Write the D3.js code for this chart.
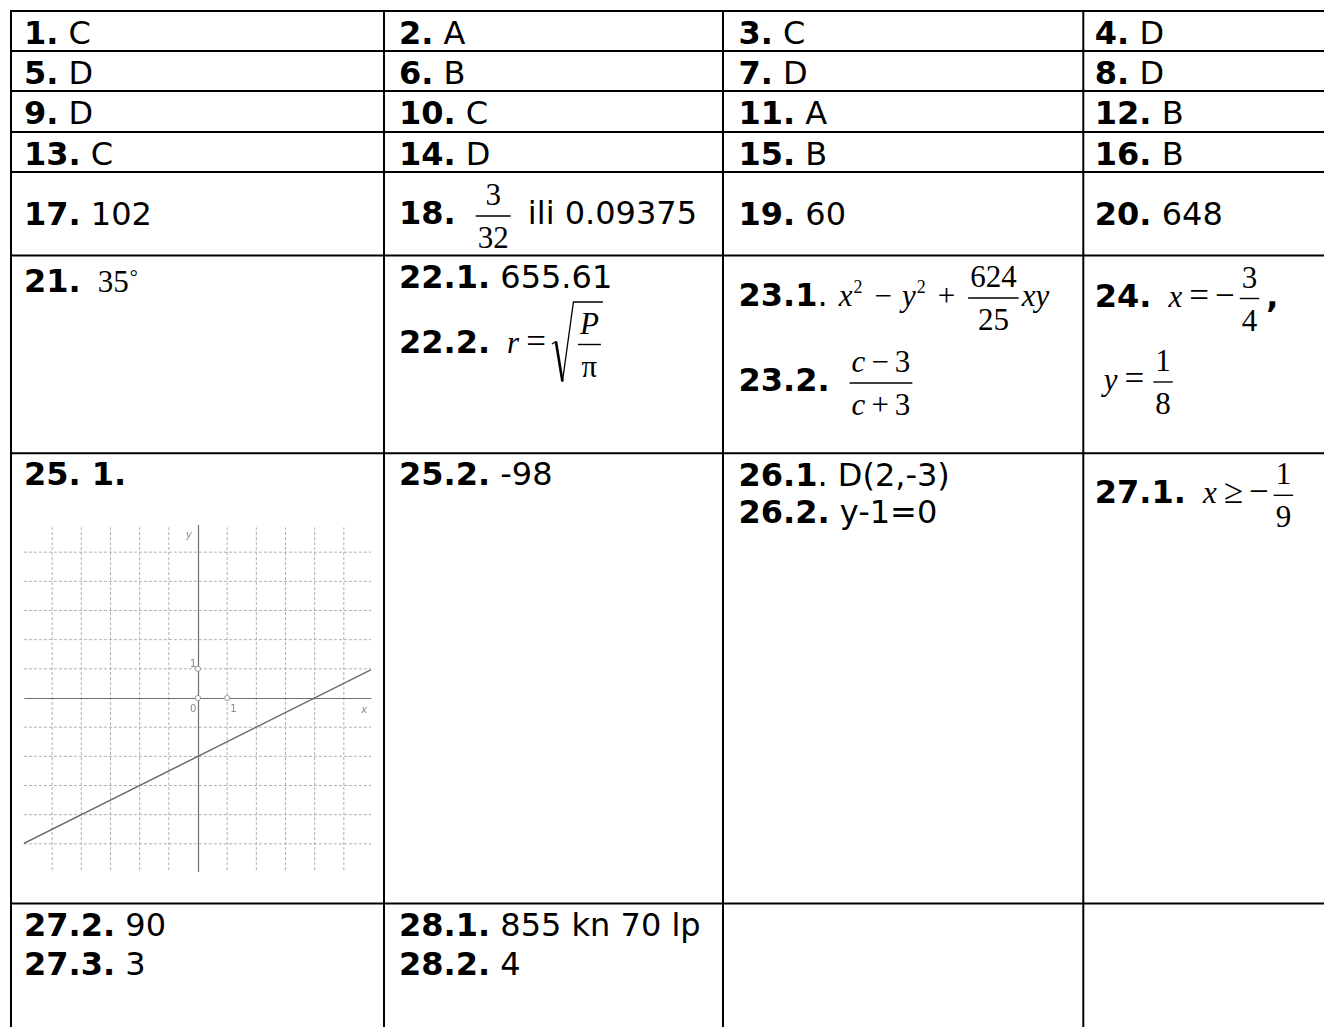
<!DOCTYPE html>
<html><head><meta charset="utf-8">
<script src="https://cdn.jsdelivr.net/npm/d3@7"></script>
<style>html,body{margin:0;padding:0;background:#fff;}svg{display:block;}</style>
</head><body>
<svg id="chart" width="1324" height="1027"></svg>
<script>
// ---------- token helpers (content only) ----------
const B = s => ({k:"b", s});      // bold sans label
const R = s => ({k:"r", s});      // regular sans answer
const I = s => ({k:"i", s});      // italic math variable
const U = s => ({k:"u", s});      // upright math
const OP = s => ({k:"op", s});    // binary operator
const REL = s => ({k:"rel", s});  // relation sign
const NEG = s => ({k:"neg", s});  // unary minus
const SUP = s => ({k:"sup", s});  // superscript
const DEG = s => ({k:"deg", s});  // degree sign
const FR = (num, den) => ({k:"frac", num, den});
const SQ = body => ({k:"sqrt", body});

// ---------- DATA ----------
const mcLabels = ["1.","2.","3.","4.","5.","6.","7.","8.","9.","10.","11.","12.","13.","14.","15.","16."];
const mcAnswers = ["C","A","C","D","D","B","D","D","D","C","A","B","C","D","B","B"];

const shortLabels = ["17.","18.","19.","20."];
const shortAnswers = [
  [R(" 102")],
  [FR([U("3")],[U("32")]), R(" ili 0.09375")],
  [R(" 60")],
  [R(" 648")]
];

const openAnswers = [
  [[B("21."), U("35"), DEG("°")]],
  [[B("22.1."), R(" 655.61")],
   [B("22.2."), I("r"), REL("="), SQ([FR([I("P")],[U("π")])])]],
  [[B("23.1"), R("."), I("x"), SUP("2"), OP("−"), I("y"), SUP("2"), OP("+"), FR([U("624")],[U("25")]), I("xy")],
   [B("23.2."), FR([I("c"), OP("−"), U("3")],[I("c"), OP("+"), U("3")])]],
  [[B("24."), I("x"), REL("="), NEG("−"), FR([U("3")],[U("4")]), B(",")],
   [I("y"), REL("="), FR([U("1")],[U("8")])]]
];

const longAnswers = [
  [[B("25. 1.")]],
  [[B("25.2."), R(" -98")]],
  [[B("26.1"), R(". D(2,-3)")], [B("26.2."), R(" y-1=0")]],
  [[B("27.1."), I("x"), REL("≥"), NEG("−"), FR([U("1")],[U("9")])]]
];

const lastAnswers = [
  [[B("27.2."), R(" 90")], [B("27.3."), R(" 3")]],
  [[B("28.1."), R(" 855 kn 70 lp")], [B("28.2."), R(" 4")]],
  [],
  []
];

// graph of task 25.1
const gridValues = [-5,-4,-3,-2,-1,1,2,3,4,5];
const linePoints = [{x:-6, y:-5}, {x:6, y:1}];
const markedPoints = [{x:0, y:0}, {x:1, y:0}, {x:0, y:1}];
const pointLabels = [{t:"0", x:0, y:0}, {t:"1", x:1, y:0}, {t:"1", x:0, y:1}];
const axisNames = ["x", "y"];

// ---------- LAYOUT / STYLE ----------
const SANS = "'DejaVu Sans', Verdana, sans-serif";
const SERIF = "'Liberation Serif', 'Times New Roman', serif";
const runStyle = {
  b:   {fam:SANS,  size:32, weight:700, kind:"sans"},
  r:   {fam:SANS,  size:32, weight:400, kind:"sans"},
  i:   {fam:SERIF, size:31, italic:true, kind:"math"},
  u:   {fam:SERIF, size:31, kind:"math"},
  op:  {fam:SERIF, size:31, kind:"math", padL:10, padR:10, fracPad:6},
  rel: {fam:SERIF, size:35, kind:"math", padL:7, padR:6},
  neg: {fam:SERIF, size:35, kind:"math", padL:0, padR:2},
  sup: {fam:SERIF, size:18, kind:"math", dy:-13, padL:1, padR:2},
  deg: {fam:SERIF, size:20, kind:"math", dy:-8, padL:1}
};
const kindOf = r => (r.k === "frac" || r.k === "sqrt") ? "math" : runStyle[r.k].kind;

const svg = d3.select("#chart");
svg.append("rect").attr("width", 1324).attr("height", 1027).attr("fill", "#fff");

function drawRuns(g, runs, x, y, inFrac) {
  let prev = null;
  for (const run of runs) {
    const kind = kindOf(run);
    if (prev) {
      const pk = kindOf(prev);
      if (pk === "sans" && kind === "math") x += prev.k === "b" ? 17 : 11;
      if (pk === "math" && kind === "sans") x += 4;
    }
    if (run.k === "frac") x = drawFrac(g, run, x, y);
    else if (run.k === "sqrt") x = drawSqrt(g, run, x, y);
    else {
      const st = runStyle[run.k];
      const pl = inFrac && st.fracPad != null ? st.fracPad : (st.padL || 0);
      const pr = inFrac && st.fracPad != null ? st.fracPad : (st.padR || 0);
      x += pl;
      const t = g.append("text")
        .attr("x", x).attr("y", y + (st.dy || 0))
        .attr("font-family", st.fam).attr("font-size", st.size)
        .attr("font-weight", st.weight || 400)
        .attr("font-style", st.italic ? "italic" : "normal")
        .attr("fill", "#000")
        .style("white-space", "pre")
        .text(run.s);
      x += t.node().getComputedTextLength();
      x += pr;
    }
    prev = run;
  }
  return x;
}

function drawFrac(g, run, x, y) {
  const m = 3, axis = y - 8;
  const gn = g.append("g"), gd = g.append("g");
  const wn = drawRuns(gn, run.num, 0, 0, true), wd = drawRuns(gd, run.den, 0, 0, true);
  const W = Math.max(wn, wd) + 4;
  gn.attr("transform", `translate(${x + m + (W - wn) / 2},${axis - 11})`);
  gd.attr("transform", `translate(${x + m + (W - wd) / 2},${axis + 32})`);
  g.append("line").attr("x1", x + m).attr("x2", x + m + W)
    .attr("y1", axis).attr("y2", axis)
    .attr("stroke", "#000").attr("stroke-width", 1.4);
  return x + 2 * m + W;
}

function drawSqrt(g, run, x, y) {
  const bx = x + 23;
  const gb = g.append("g").attr("transform", `translate(${bx},0)`);
  const w = drawRuns(gb, run.body, 0, y);
  const top = y - 50.5, bot = y + 29;
  g.append("path").attr("d", `M${x},${y - 8.5} L${x + 4},${y - 11}`)
    .attr("stroke", "#000").attr("stroke-width", 1.3).attr("fill", "none");
  g.append("path").attr("d", `M${x + 4},${y - 11} L${x + 10.5},${bot}`)
    .attr("stroke", "#000").attr("stroke-width", 2.6).attr("fill", "none");
  g.append("path").attr("d", `M${x + 10.5},${bot} L${x + 21.5},${top} L${bx + w - 1},${top}`)
    .attr("stroke", "#000").attr("stroke-width", 1.3).attr("fill", "none");
  return bx + w;
}

// table geometry
const colX = d3.scaleOrdinal().domain([0,1,2,3,4]).range([11, 384, 723, 1083.3, 1330]);
const rowY = d3.scaleOrdinal().domain([0,1,2,3,4,5,6,7,8]).range([11, 51, 91, 132, 172, 255.5, 453.3, 903.5, 1040]);
const pad = [13, 15, 15.5, 11.5];

const cells = [];
mcAnswers.forEach((a, i) => cells.push({row: Math.floor(i / 4), col: i % 4,
  lines: [[B(mcLabels[i]), R(" " + a)]]}));
shortAnswers.forEach((a, j) => cells.push({row: 4, col: j, lines: [[B(shortLabels[j]), ...a]]}));
openAnswers.forEach((c, j) => cells.push({row: 5, col: j, lines: c}));
longAnswers.forEach((c, j) => cells.push({row: 6, col: j, lines: c}));
lastAnswers.forEach((c, j) => cells.push({row: 7, col: j, lines: c}));

const baseOffsets = {
  0: [[33],[33],[33],[33]], 1: [[33],[33],[33],[33]], 2: [[33],[33],[33],[33]], 3: [[33],[33],[33],[33]],
  4: [[52.5],[52],[52.5],[52.5]],
  5: [[36],[32,97],[50.5,135.5],[51,134.5]],
  6: [[32],[32],[32.4,69.7],[50]],
  7: [[32.5,71.5],[32,71.5],[],[]]
};
const indents = {"5-3-1": 9};

const textG = svg.append("g");
cells.forEach(c => {
  c.lines.forEach((runs, li) => {
    const x0 = colX(c.col) + pad[c.col] + (indents[`${c.row}-${c.col}-${li}`] || 0);
    const y0 = rowY(c.row) + baseOffsets[c.row][c.col][li];
    drawRuns(textG, runs, x0, y0, false);
  });
});

// table lines
const lineG = svg.append("g").attr("stroke", "#000").attr("stroke-width", 2);
d3.range(0, 8).forEach(r => {
  lineG.append("line").attr("x1", colX(0) - 1).attr("x2", colX(4))
    .attr("y1", rowY(r)).attr("y2", rowY(r));
});
d3.range(0, 4).forEach(c => {
  lineG.append("line").attr("x1", colX(c)).attr("x2", colX(c))
    .attr("y1", rowY(0) - 1).attr("y2", rowY(8));
});

// ---------- graph 25.1 ----------
const gx = d3.scaleLinear().domain([-6, 6]).range([23, 373]);
const gy = d3.scaleLinear().domain([-6, 6]).range([873, 523]);
const defs = svg.append("defs");
defs.append("filter").attr("id", "soft").append("feGaussianBlur").attr("stdDeviation", 0.4);
defs.append("clipPath").attr("id", "gclip").append("rect")
  .attr("x", gx(-5.97)).attr("y", gy(5.95))
  .attr("width", gx(5.93) - gx(-5.97)).attr("height", gy(-5.95) - gy(5.95));

const graph = svg.append("g").attr("filter", "url(#soft)");
graph.append("g").selectAll("line").data(gridValues).join("line")
  .attr("x1", gx(-5.97)).attr("x2", gx(5.93))
  .attr("y1", d => gy(d)).attr("y2", d => gy(d))
  .attr("stroke", "#b0b0b0").attr("stroke-width", 1).attr("stroke-dasharray", "3,2");
graph.append("g").selectAll("line").data(gridValues).join("line")
  .attr("x1", d => gx(d)).attr("x2", d => gx(d))
  .attr("y1", gy(-5.9)).attr("y2", gy(5.85))
  .attr("stroke", "#b0b0b0").attr("stroke-width", 1).attr("stroke-dasharray", "3,2");

graph.append("g").attr("transform", `translate(0,${gy(0)})`)
  .call(d3.axisBottom(gx.copy().domain([-5.97, 5.93]).range([gx(-5.97), gx(5.93)])).tickValues([]).tickSizeOuter(0));
graph.append("g").attr("transform", `translate(${gx(0)},0)`)
  .call(d3.axisLeft(gy.copy().domain([-5.95, 5.95]).range([gy(-5.95), gy(5.95)])).tickValues([]).tickSizeOuter(0));
graph.selectAll(".domain").attr("stroke", "#707070").attr("stroke-width", 1.2);

graph.append("path").datum(linePoints)
  .attr("clip-path", "url(#gclip)")
  .attr("d", d3.line().x(d => gx(d.x)).y(d => gy(d.y)))
  .attr("stroke", "#666").attr("stroke-width", 1.4).attr("fill", "none");

graph.append("g").selectAll("circle").data(markedPoints).join("circle")
  .attr("cx", d => gx(d.x)).attr("cy", d => gy(d.y)).attr("r", 2.6)
  .attr("fill", "#fff").attr("stroke", "#999").attr("stroke-width", 1);

graph.append("g").selectAll("text").data(pointLabels).join("text")
  .attr("x", d => gx(d.x) + (d.x === 0 ? -8 : 3))
  .attr("y", d => gy(d.y) + (d.y === 0 ? 14 : -2))
  .attr("font-family", SANS).attr("font-size", 10).attr("fill", "#888")
  .text(d => d.t);

graph.append("text").attr("x", gx(5.6)).attr("y", gy(0) + 15)
  .attr("font-family", SANS).attr("font-style", "italic").attr("font-size", 10).attr("fill", "#888")
  .text(axisNames[0]);
graph.append("text").attr("x", gx(0) - 12).attr("y", gy(5.5))
  .attr("font-family", SANS).attr("font-style", "italic").attr("font-size", 10).attr("fill", "#888")
  .text(axisNames[1]);
</script>
</body></html>
